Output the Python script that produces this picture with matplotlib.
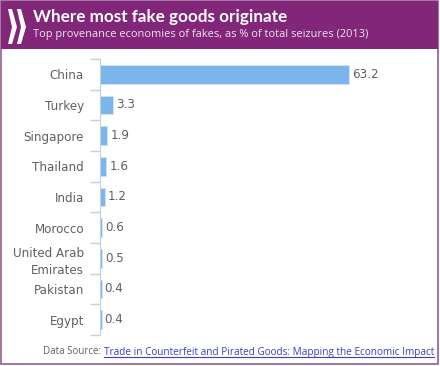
#!/usr/bin/env python
# where most fake goods originate - horizontal bars with purple banner
import matplotlib
matplotlib.use('Agg')
import numpy as np
import matplotlib.pyplot as plt
from matplotlib.patches import Polygon, Rectangle

W, H = 440, 366

countries = ['China', 'Turkey', 'Singapore', 'Thailand', 'India', 'Morocco',
             'United Arab\nEmirates', 'Pakistan', 'Egypt']
shares = [63.2, 3.3, 1.9, 1.6, 1.2, 0.6, 0.5, 0.4, 0.4]
value_labels = ['63.2', '3.3', '1.9', '1.6', '1.2', '0.6', '0.5', '0.4', '0.4']

title = 'Where most fake goods originate'
subtitle = 'Top provenance economies of fakes, as % of total seizures (2013)'
source = 'Data Source: '
link = 'Trade in Counterfeit and Pirated Goods: Mapping the Economic Impact'

purple = '#822679'
grey = '#606060'
bar_col = '#7cb5ec'
axis_col = '#c0d0e0'


def fx(px):
    return px / W


def fy(py):
    return 1 - py / H


fig = plt.figure(figsize=(W / 100, H / 100), dpi=100)

# outer frame and banner
fig.add_artist(Rectangle((fx(1), fy(364)), fx(437), 363 / H, fc='white', ec='#8f5f92', lw=1.2, zorder=-2))
fig.add_artist(Rectangle((fx(1), fy(49)), fx(437), 48 / H, fc=purple, ec='none', zorder=-1))

# oecd style chevrons
for off in (0, 9):
    pts = [(8, 9), (12, 9), (17, 27), (12, 44), (8, 44), (12, 27)]
    fig.add_artist(Polygon([(fx(x + off), fy(y)) for x, y in pts], fc='white', ec='none'))

fig.text(fx(33), fy(17), title, color='white', weight='bold', size=12.3,
         family='Lato', va='center')
fig.text(fx(33), fy(35), subtitle, color='#f0e4ee', size=7.9,
         family='Open Sans', va='center')

# bars
ax = fig.add_axes([fx(100), fy(335), 338 / W, 276 / H])
ax.patch.set_alpha(0)
pos = np.arange(len(countries))
ax.barh(pos, shares, height=0.6, color=bar_col, edgecolor='#d5e6f7', lw=0.6)
ax.set_xlim(0, 338 / 3.94)
ax.set_ylim(len(countries) - 0.5, -0.5)
for y, v, lab in zip(pos, shares, value_labels):
    ax.annotate(lab, (v, y), xytext=(2.2, 0), textcoords='offset points', va='center',
                color=grey, size=8.6, family='DejaVu Sans')

ax.set_xticks([])
ax.set_yticks(pos)
ax.set_yticklabels(countries, color=grey, size=8.6, ha='right', linespacing=1.4,
                   family='DejaVu Sans', multialignment='right')
ax.tick_params(axis='y', length=0, pad=11.5)
# category boundary ticks
ax.set_yticks(np.arange(len(countries) + 1) - 0.5, minor=True)
ax.tick_params(axis='y', which='minor', length=7, color=axis_col, width=1)
for s in ('top', 'right', 'bottom'):
    ax.spines[s].set_visible(False)
ax.spines['left'].set_color(axis_col)

# source line, link underlined
fig.text(fx(43), fy(352), source, color=grey, size=7.0, va='center', family='Open Sans')
t = fig.text(fx(104), fy(352), link, color='#3a3fc4', size=7.2, va='center', family='Open Sans')
fig.canvas.draw()
bb = t.get_window_extent()
fig.add_artist(plt.Line2D([bb.x0 / W, bb.x1 / W], [fy(357), fy(357)], color='#3a3fc4', lw=0.8))

fig.savefig('out.png', dpi=100)
